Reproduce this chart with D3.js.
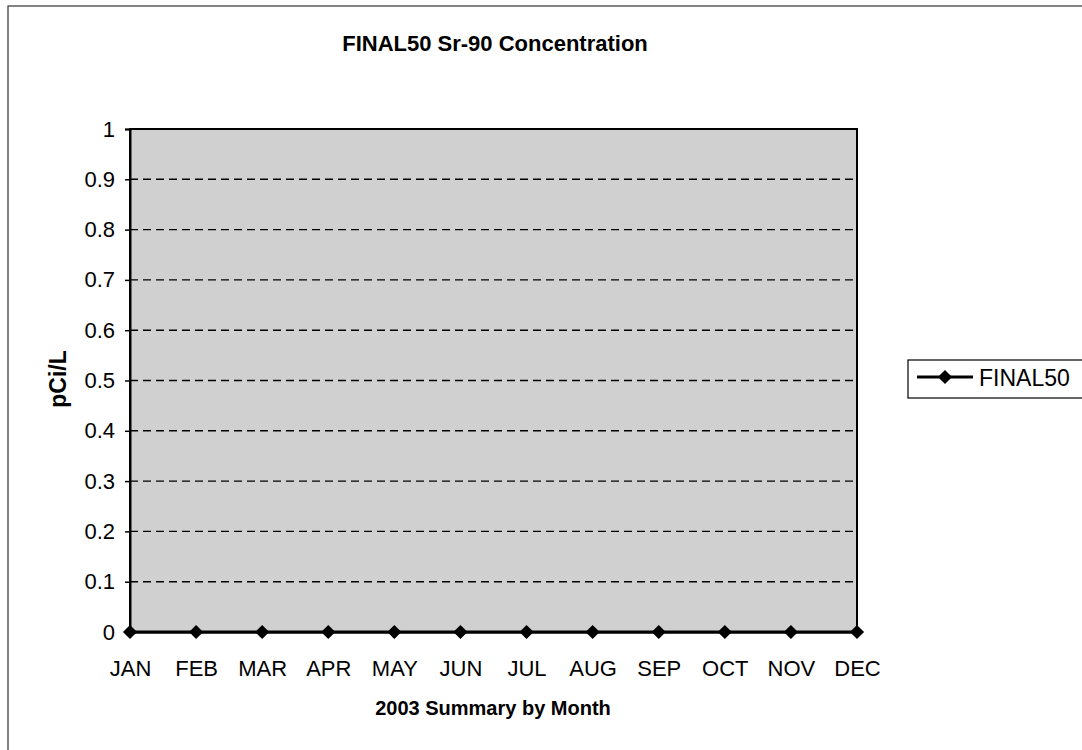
<!DOCTYPE html>
<html>
<head>
<meta charset="utf-8">
<script src="https://cdn.jsdelivr.net/npm/d3@7"></script>
<style>
  html, body { margin: 0; padding: 0; background: #fff; }
  svg { display: block; font-family: Arial, "Liberation Sans", sans-serif; }
</style>
</head>
<body>
<svg id="chart" width="1082" height="750"></svg>
<script>
const months = ["JAN","FEB","MAR","APR","MAY","JUN","JUL","AUG","SEP","OCT","NOV","DEC"];
const final50 = [0,0,0,0,0,0,0,0,0,0,0,0];
const yTicks = [0,0.1,0.2,0.3,0.4,0.5,0.6,0.7,0.8,0.9,1];
const seriesName = "FINAL50";
const chartTitle = "FINAL50 Sr-90 Concentration";
const xTitle = "2003 Summary by Month";
const yTitle = "pCi/L";

const svg = d3.select("#chart");
const plot = {left: 130, right: 857, top: 129, bottom: 632};
const font = "Arial, 'Liberation Sans', sans-serif";

// outer chart border (only left/top visible in frame)
svg.append("rect").attr("x", 8).attr("y", 6).attr("width", 1100).attr("height", 800)
  .attr("fill", "#fff").attr("stroke", "#333").attr("stroke-width", 1.2);

const x = d3.scalePoint().domain(months).range([plot.left, plot.right]);
const y = d3.scaleLinear().domain([0, 1]).range([plot.bottom, plot.top]);

// plot area
svg.append("rect").attr("x", plot.left).attr("y", plot.top)
  .attr("width", plot.right - plot.left).attr("height", plot.bottom - plot.top)
  .attr("fill", "#d0d0d0");

// gridlines
svg.append("g").selectAll("line").data(yTicks.filter(d => d > 0 && d < 1)).join("line")
  .attr("x1", plot.left).attr("x2", plot.right)
  .attr("y1", d => y(d)).attr("y2", d => y(d))
  .attr("stroke", "#000").attr("stroke-width", 1.4).attr("stroke-dasharray", "8,5");

// plot frame
svg.append("rect").attr("x", plot.left).attr("y", plot.top)
  .attr("width", plot.right - plot.left).attr("height", plot.bottom - plot.top)
  .attr("fill", "none").attr("stroke", "#000").attr("stroke-width", 2);

// y axis
const yAxis = d3.axisLeft(y).tickValues(yTicks).tickSize(5).tickPadding(10)
  .tickFormat(d => d3.format("")(+d.toFixed(1)));
const gy = svg.append("g").attr("transform", `translate(${plot.left},0)`).call(yAxis);
gy.select(".domain").attr("stroke", "#000").attr("stroke-width", 2);
gy.selectAll(".tick line").attr("stroke", "#000").attr("stroke-width", 1.5);
gy.selectAll("text").attr("font-size", 22).attr("fill", "#000").attr("font-family", font);

// x axis
const xAxis = d3.axisBottom(x).tickSize(0).tickPadding(28);
const gx = svg.append("g").attr("transform", `translate(0,${plot.bottom})`).call(xAxis);
gx.select(".domain").attr("stroke", "#000").attr("stroke-width", 2);
gx.selectAll("text").attr("font-size", 22).attr("fill", "#000").attr("font-family", font);

// series line
const line = d3.line().x((d, i) => x(months[i])).y(d => y(d));
svg.append("path").datum(final50).attr("d", line)
  .attr("fill", "none").attr("stroke", "#000").attr("stroke-width", 3);

const marker = d3.symbol().type(d3.symbolSquare).size(100);
svg.append("g").selectAll("path").data(final50).join("path")
  .attr("d", marker)
  .attr("transform", (d, i) => `translate(${x(months[i])},${y(d)}) rotate(45)`)
  .attr("fill", "#000");

// titles
svg.append("text").attr("x", 495).attr("y", 51).attr("text-anchor", "middle")
  .attr("font-size", 22).attr("font-weight", "bold").text(chartTitle);
svg.append("text").attr("x", 493).attr("y", 715).attr("text-anchor", "middle")
  .attr("font-size", 20).attr("font-weight", "bold").text(xTitle);
svg.append("text").attr("transform", "translate(66,379) rotate(-90)")
  .attr("text-anchor", "middle").attr("font-size", 23).attr("font-weight", "bold").text(yTitle);

// legend
const lg = svg.append("g");
lg.append("rect").attr("x", 908).attr("y", 360).attr("width", 180).attr("height", 38)
  .attr("fill", "#fff").attr("stroke", "#000").attr("stroke-width", 1.2);
lg.append("line").attr("x1", 917).attr("x2", 973).attr("y1", 377).attr("y2", 377)
  .attr("stroke", "#000").attr("stroke-width", 3);
lg.append("path").attr("d", marker).attr("transform", "translate(945,377) rotate(45)").attr("fill", "#000");
lg.append("text").attr("x", 979).attr("y", 386).attr("font-size", 23).text(seriesName);
</script>
</body>
</html>
